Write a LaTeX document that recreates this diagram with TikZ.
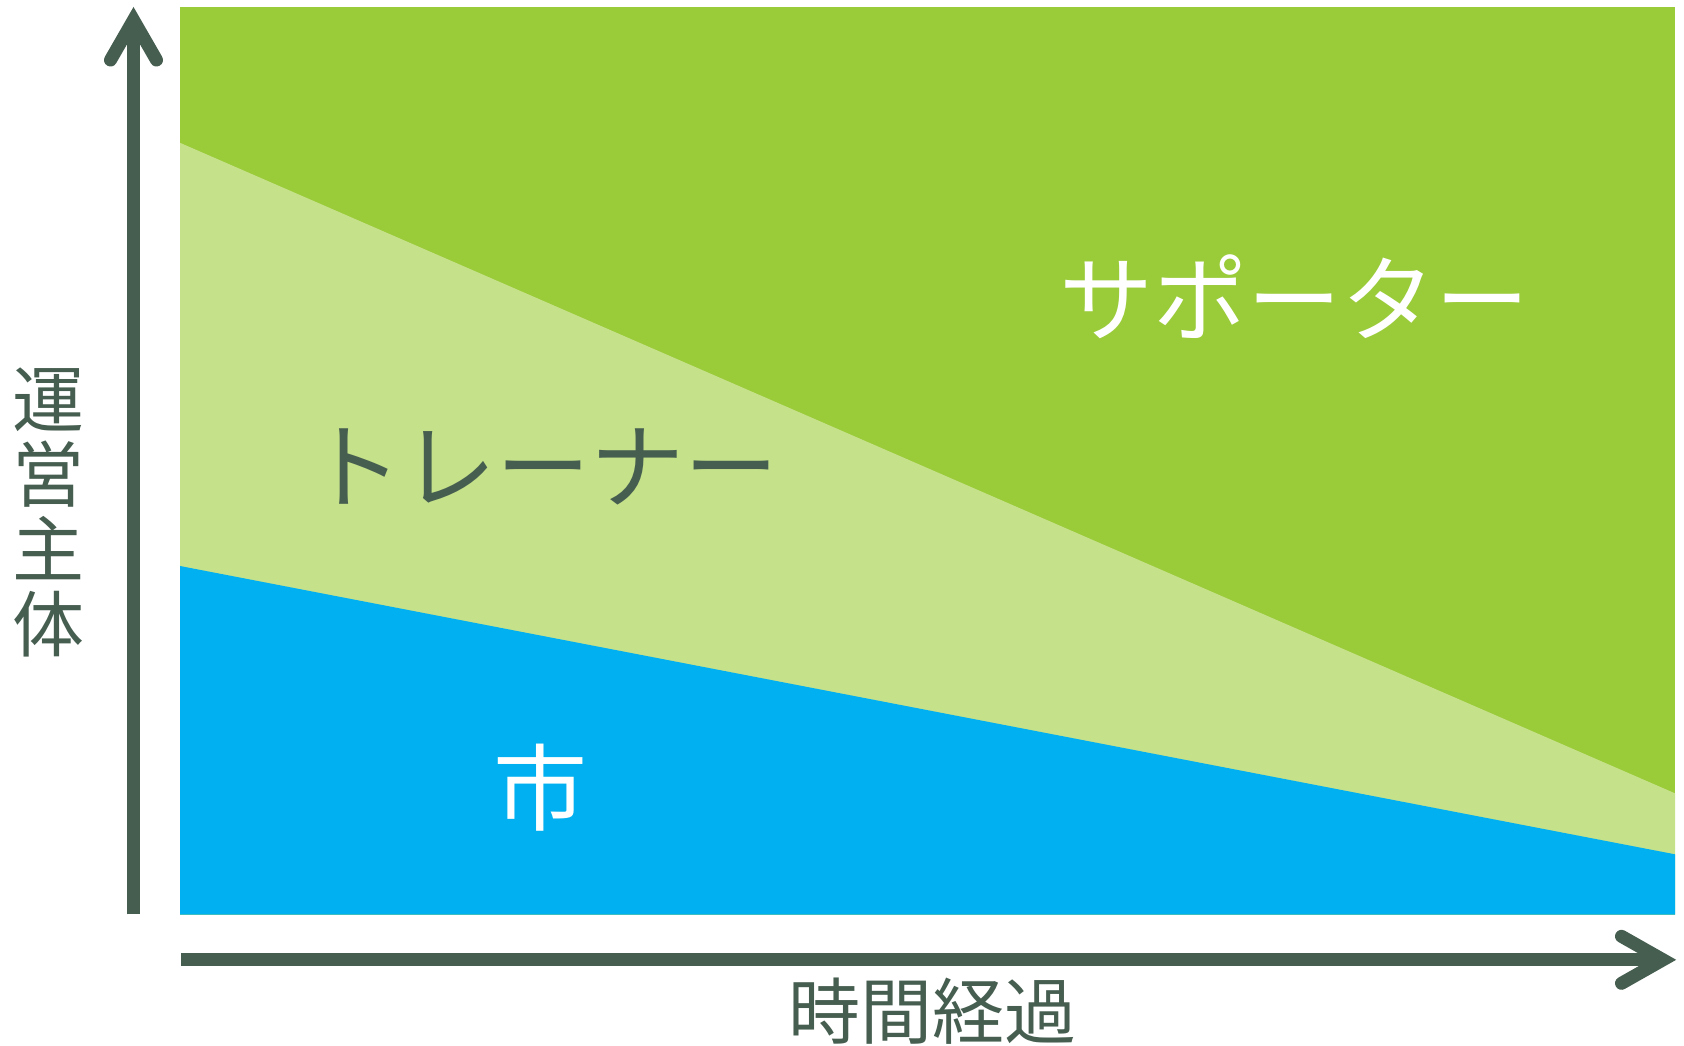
\documentclass[tikz,border=0pt]{standalone}
\usepackage{fontspec}
\newfontfamily\cjk{Noto Sans CJK JP}
\definecolor{axisgreen}{RGB}{70,94,80}
\definecolor{topgreen}{RGB}{154,203,56}
\definecolor{midgreen}{RGB}{197,225,138}
\definecolor{cityblue}{RGB}{0,176,240}
\tikzset{
  axisline/.style={draw=axisgreen,line width=13pt,line cap=butt},
  axishead/.style={draw=axisgreen,line width=13pt,line cap=round,line join=miter},
  bigtext/.style={inner sep=0pt,font=\cjk\fontsize{94}{94}\selectfont},
  axistext/.style={inner sep=0pt,text=axisgreen,align=center,font=\cjk\fontsize{72}{75}\selectfont}
}
\begin{document}
\begin{tikzpicture}[x=1pt,y=-1pt]
\useasboundingbox (0,0) rectangle (1684,1046);
% regions
\fill[topgreen] (180,7.3) rectangle (1675,914.5);
\fill[midgreen] (180,142.8) -- (1675,793.3) -- (1675,914.5) -- (180,914.5) -- cycle;
\fill[cityblue] (180,566) -- (1675,854.3) -- (1675,914.5) -- (180,914.5) -- cycle;
% labels
\node[bigtext,text=white] (sup) at (1294,297) {サポーター};
\node[bigtext,text=axisgreen] (trn) at (543,467) {トレーナー};
\node[bigtext,text=white] (city) at (540,788) {市};
% axes
\coordinate (yo) at (133.5,914.3);
\coordinate (ytip) at (133.5,20);
\coordinate (ya) at (110.5,60);
\coordinate (yb) at (156.5,60);
\coordinate (xo) at (181,959.8);
\coordinate (xtip) at (1663,959.8);
\coordinate (xa) at (1621.5,936.3);
\coordinate (xb) at (1621.5,983.3);
\draw[axisline] (yo) -- ([yshift=-8pt]ytip);
\draw[axishead] (ya) -- (ytip) -- (yb);
\draw[axisline] (xo) -- ([xshift=-8pt]xtip);
\draw[axishead] (xa) -- (xtip) -- (xb);
\node[axistext] (ylab) at (48.5,512) {運\\営\\主\\体};
\node[axistext] (xlab) at (932,1011) {時間経過};
\end{tikzpicture}
\end{document}
